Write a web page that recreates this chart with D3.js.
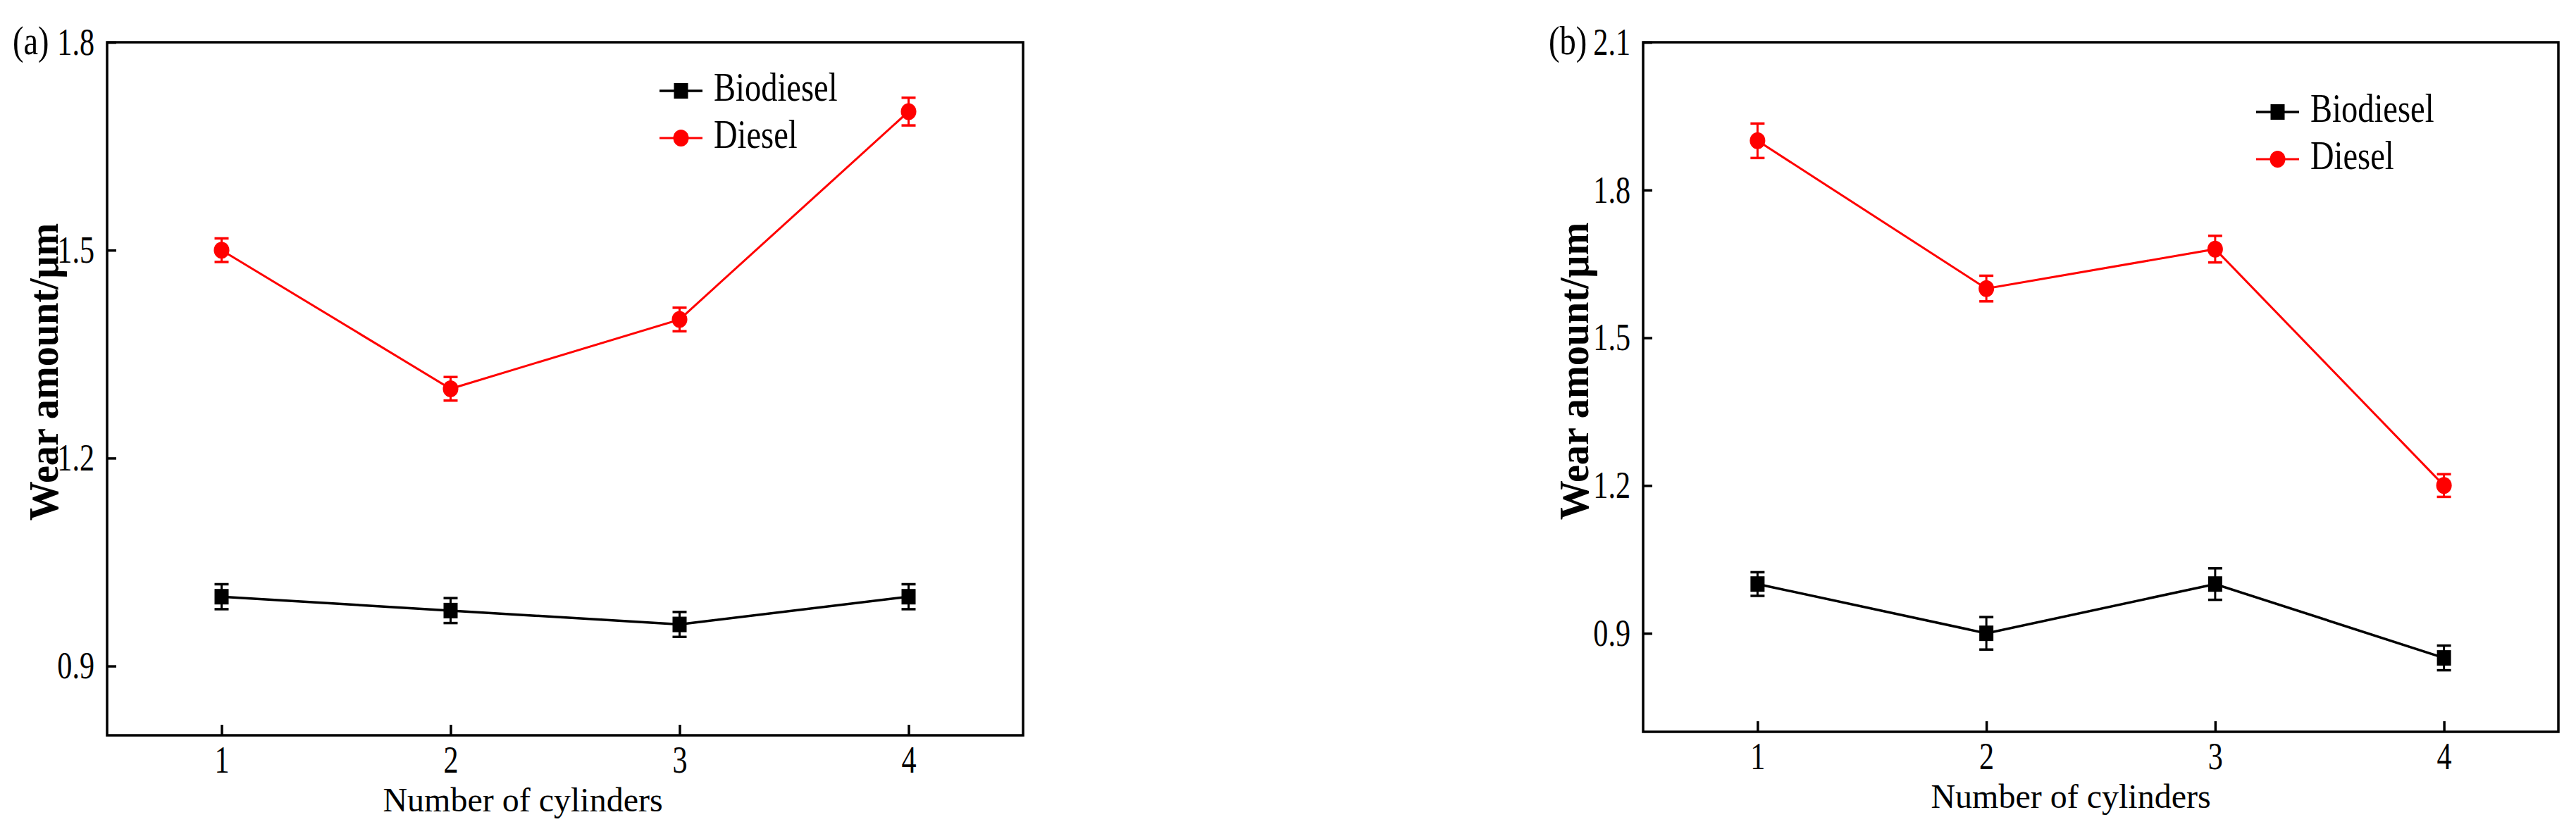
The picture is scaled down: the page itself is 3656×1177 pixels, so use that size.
<!DOCTYPE html>
<html>
<head>
<meta charset="utf-8">
<script src="https://cdn.jsdelivr.net/npm/d3@7"></script>
<style>
  body { margin: 0; background: #fff; }
  text { font-family: "Liberation Serif", "Times New Roman", serif; fill: #000; }
</style>
</head>
<body>
<div id="chart"></div>
<script>
const cylinders = [1, 2, 3, 4];
const seriesNames = ["Biodiesel", "Diesel"];

// panel (a)
const bioA = [1.00, 0.98, 0.96, 1.00];
const bioAErr = [0.018, 0.018, 0.018, 0.018];
const dieselA = [1.50, 1.30, 1.40, 1.70];
const dieselAErr = [0.017, 0.017, 0.017, 0.020];
const yTicksA = [0.9, 1.2, 1.5, 1.8];

// panel (b)
const bioB = [1.00, 0.90, 1.00, 0.85];
const bioBErr = [0.024, 0.033, 0.032, 0.025];
const dieselB = [1.90, 1.60, 1.68, 1.20];
const dieselBErr = [0.035, 0.026, 0.027, 0.023];
const yTicksB = [0.9, 1.2, 1.5, 1.8, 2.1];

const width = 3656, height = 1177;

const panels = [
  { tag: "(a)", tagX: 18, left: 152, right: 1452, top: 60, bottom: 1044,
    yDomain: [0.8, 1.8], yTicks: yTicksA,
    bio: bioA, bioErr: bioAErr, diesel: dieselA, dieselErr: dieselAErr,
    legendX: 936, legendY: 129, xLabelX: 742, yLabelX: 82, yLabelY: 528 },
  { tag: "(b)", tagX: 2198, left: 2332, right: 3631, top: 60, bottom: 1039,
    yDomain: [0.7, 2.1], yTicks: yTicksB,
    bio: bioB, bioErr: bioBErr, diesel: dieselB, dieselErr: dieselBErr,
    legendX: 3202, legendY: 159, xLabelX: 2939, yLabelX: 2254, yLabelY: 527 }
];

const tickFont = 54, tickSx = 0.78;
const legendFont = 56, legendSx = 0.83;

const svg = d3.select("#chart")
  .append("svg")
  .attr("width", width)
  .attr("height", height);

svg.append("rect").attr("width", width).attr("height", height).attr("fill", "#fff");

// the source figure is squeezed sideways, so text is narrowed
function squeezeTicks(g, sx) {
  g.selectAll(".tick text").each(function () {
    const t = d3.select(this);
    const x = +t.attr("x") || 0;
    t.attr("x", x / sx).attr("transform", `scale(${sx},1)`);
  });
}

function drawMarker(g, kind, cx, cy, color) {
  if (kind === "square") {
    g.append("rect")
      .attr("x", cx - 10).attr("y", cy - 11)
      .attr("width", 20).attr("height", 22)
      .attr("fill", color);
  } else {
    g.append("ellipse")
      .attr("cx", cx).attr("cy", cy)
      .attr("rx", 11).attr("ry", 12)
      .attr("fill", color);
  }
}

panels.forEach((p) => {
  const x = d3.scaleLinear().domain([0.5, 4.5]).range([p.left, p.right]);
  const y = d3.scaleLinear().domain(p.yDomain).range([p.bottom, p.top]);

  const g = svg.append("g");

  // x axis
  const gx = g.append("g")
    .attr("transform", `translate(0,${p.bottom})`)
    .call(d3.axisBottom(x).tickValues(cylinders).tickFormat(d3.format("d"))
      .tickSize(-15).tickPadding(15));
  gx.select(".domain").remove();
  gx.selectAll(".tick line").attr("stroke", "#000").attr("stroke-width", 3.5);
  gx.selectAll(".tick text").style("font-size", tickFont + "px")
    .style("font-family", '"Liberation Serif", serif');
  squeezeTicks(gx, tickSx);

  // y axis
  const gy = g.append("g")
    .attr("transform", `translate(${p.left},0)`)
    .call(d3.axisLeft(y).tickValues(p.yTicks).tickFormat(d3.format(".1f"))
      .tickSize(-13).tickPadding(18));
  gy.select(".domain").remove();
  gy.selectAll(".tick line").attr("stroke", "#000").attr("stroke-width", 3.5);
  gy.selectAll(".tick text").style("font-size", tickFont + "px")
    .style("font-family", '"Liberation Serif", serif');
  squeezeTicks(gy, tickSx);

  // frame
  g.append("rect")
    .attr("x", p.left).attr("y", p.top)
    .attr("width", p.right - p.left).attr("height", p.bottom - p.top)
    .attr("fill", "none").attr("stroke", "#000").attr("stroke-width", 3.5);

  // panel tag
  g.append("text")
    .attr("transform", `translate(${p.tagX},77) scale(${legendSx},1)`)
    .style("font-size", legendFont + "px")
    .text(p.tag);

  // axis titles
  g.append("text")
    .attr("x", p.xLabelX).attr("y", p.bottom + 108)
    .attr("text-anchor", "middle")
    .style("font-size", "48px")
    .text("Number of cylinders");

  g.append("text")
    .attr("transform", `translate(${p.yLabelX},${p.yLabelY}) rotate(-90) scale(0.936,1)`)
    .attr("text-anchor", "middle")
    .style("font-size", "60px")
    .style("font-weight", "bold")
    .text("Wear amount/μm");

  const series = [
    { name: seriesNames[0], values: p.bio, errs: p.bioErr, color: "#000000", kind: "square", lw: 3.5 },
    { name: seriesNames[1], values: p.diesel, errs: p.dieselErr, color: "#ff0000", kind: "circle", lw: 3 }
  ];

  const line = d3.line()
    .x((d, i) => x(cylinders[i]))
    .y((d) => y(d));

  series.forEach((s, si) => {
    const sg = g.append("g");
    sg.append("path")
      .datum(s.values)
      .attr("d", line)
      .attr("fill", "none")
      .attr("stroke", s.color)
      .attr("stroke-width", s.lw);

    s.values.forEach((v, i) => {
      const cx = x(cylinders[i]);
      const y0 = y(v - s.errs[i]), y1 = y(v + s.errs[i]);
      sg.append("line")
        .attr("x1", cx).attr("x2", cx).attr("y1", y0).attr("y2", y1)
        .attr("stroke", s.color).attr("stroke-width", 3);
      [y0, y1].forEach((yy) => {
        sg.append("line")
          .attr("x1", cx - 10).attr("x2", cx + 10).attr("y1", yy).attr("y2", yy)
          .attr("stroke", s.color).attr("stroke-width", 3.5);
      });
      drawMarker(sg, s.kind, cx, y(v), s.color);
    });

    // legend entry
    const ly = p.legendY + si * 67;
    const lg = g.append("g");
    lg.append("line")
      .attr("x1", p.legendX).attr("x2", p.legendX + 61)
      .attr("y1", ly).attr("y2", ly)
      .attr("stroke", s.color).attr("stroke-width", s.lw);
    drawMarker(lg, s.kind, p.legendX + 30.5, ly, s.color);
    lg.append("text")
      .attr("transform", `translate(${p.legendX + 77},${ly + 14}) scale(${legendSx},1)`)
      .style("font-size", legendFont + "px")
      .text(s.name);
  });
});
</script>
</body>
</html>
